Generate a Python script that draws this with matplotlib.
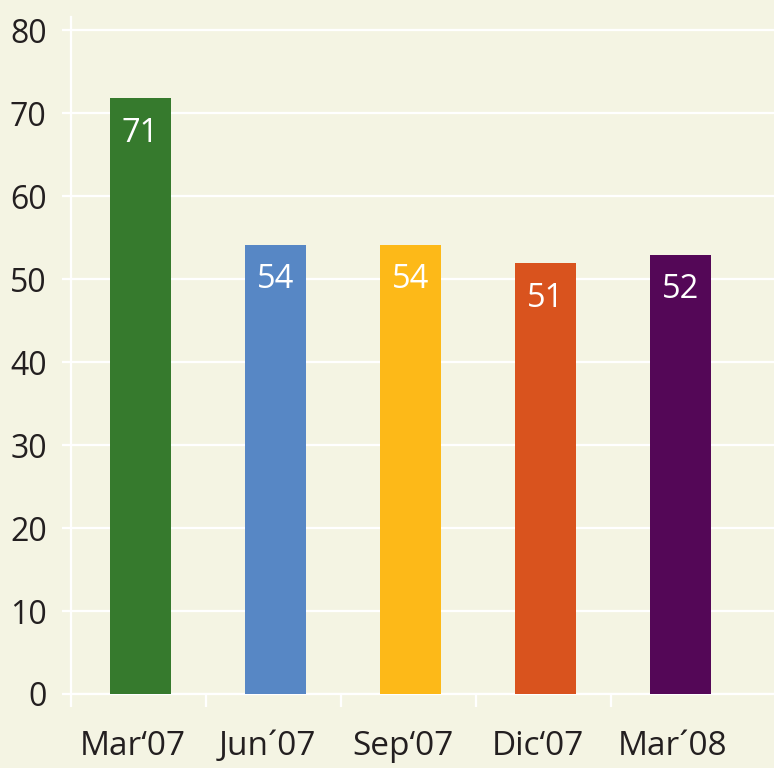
import matplotlib.pyplot as plt

# data
periods = ["Mar\u201807", "Jun\u00b407", "Sep\u201807", "Dic\u201807", "Mar\u00b408"]
bar_heights = [71.8, 54.1, 54.1, 51.9, 52.9]
bar_labels = ["71", "54", "54", "51", "52"]
colors = ["#367a2d", "#5787c5", "#fdb918", "#d9531e", "#540757"]
y_ticks = [0, 10, 20, 30, 40, 50, 60, 70, 80]

bg = "#f4f4e3"
txt = "#231f20"
plt.rcParams["font.family"] = ["Open Sans", "DejaVu Sans"]

fig = plt.figure(figsize=(7.74, 7.68), dpi=100, facecolor=bg)
ax = fig.add_axes([71 / 774, 74 / 768, 703 / 774, 677 / 768])
ax.set_facecolor(bg)

x = list(range(len(periods)))
bars = ax.bar(x, bar_heights, width=0.452, color=colors, zorder=3)

for b, lab in zip(bars, bar_labels):
    ax.annotate(lab, (b.get_x() + b.get_width() / 2, b.get_height()),
                xytext=(0, -25), textcoords="offset points",
                ha="center", va="center", color="white", fontsize=23.5, zorder=4)

ax.set_xlim(-0.515, 4.69)
ax.set_ylim(0, 81.6)

# y axis
ax.set_yticks(y_ticks)
ax.tick_params(axis="y", length=6.5, width=1.6, color="white", pad=11,
               labelsize=23, labelcolor=txt)
ax.grid(axis="y", color="white", linewidth=1.6, zorder=1)

# x axis: category labels under bars, tick marks at boundaries
ax.set_xticks([i - 0.06 for i in x])
ax.set_xticklabels(periods)
ax.tick_params(axis="x", which="major", length=0, pad=26, labelsize=24, labelcolor=txt)
ax.set_xticks([i - 0.515 for i in x], minor=True)
ax.tick_params(axis="x", which="minor", length=9, width=1.6, color="white")

for s in ["top", "right"]:
    ax.spines[s].set_visible(False)
for s in ["left", "bottom"]:
    ax.spines[s].set_color("white")
    ax.spines[s].set_linewidth(1.6)
    ax.spines[s].set_zorder(2)

fig.savefig("out.png", dpi=100, facecolor=bg)
